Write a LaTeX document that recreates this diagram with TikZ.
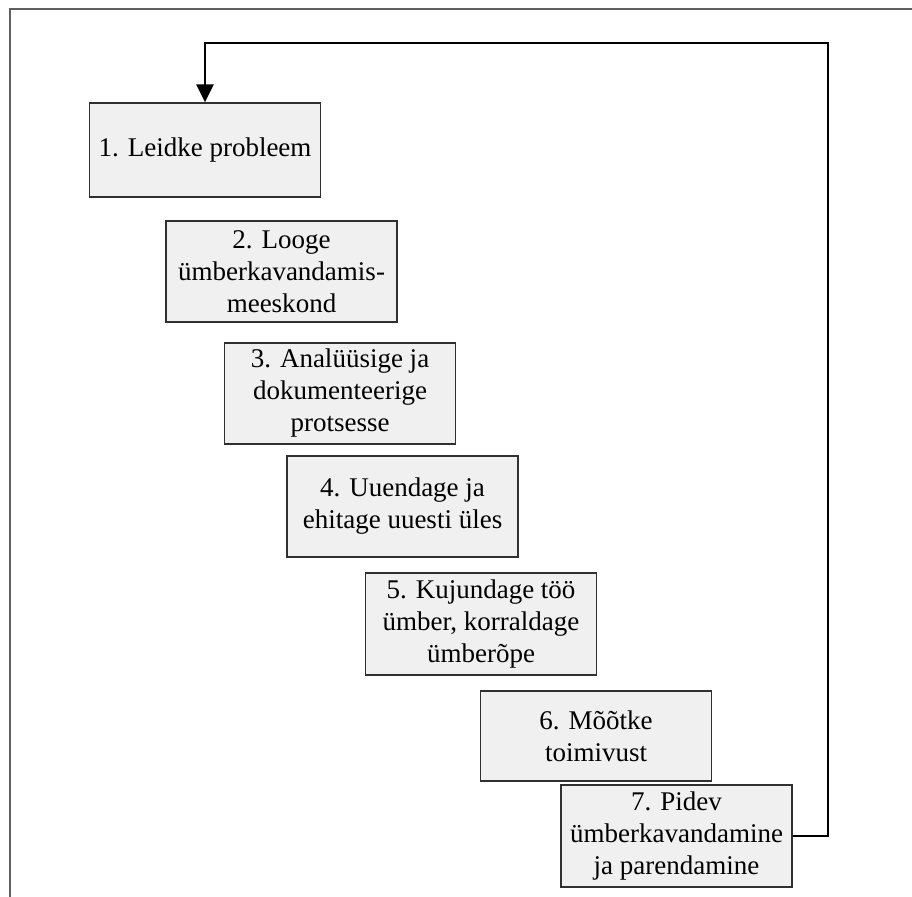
\documentclass[tikz,border=0pt]{standalone}
\usepackage{fontspec}
\setmainfont{Liberation Serif}
\usetikzlibrary{arrows.meta}
\definecolor{boxfill}{HTML}{F0F0F0}
\definecolor{boxline}{HTML}{303030}
\definecolor{frameline}{HTML}{606060}
\begin{document}
\begin{tikzpicture}[x=1pt,y=-1pt,
  stepbox/.style={draw=boxline, line width=1.3pt, fill=boxfill, align=center,
    minimum width=231pt, inner sep=0pt, font=\fontsize{27}{32}\selectfont},
  loopline/.style={draw=black, line width=2.4pt,
    -{Triangle[width=17pt,length=18pt]}},
  frame/.style={draw=frameline, line width=1.6pt}]
\useasboundingbox (0,0) rectangle (912,896);
% outer frame (left and top edges)
\draw[frame] (10,897) -- (10,9) -- (913,9);
% process steps
\node[stepbox, minimum height=94pt]  (s1) at (205,150)   {1. Leidke probleem};
\node[stepbox, minimum height=101pt] (s2) at (281.5,271.5) {2. Looge\\ümberkavandamis-\\meeskond};
\node[stepbox, minimum height=101pt] (s3) at (340,393.5) {3. Analüüsige ja\\dokumenteerige\\protsesse};
\node[stepbox, minimum height=101pt] (s4) at (402.5,506.5) {4. Uuendage ja\\ehitage uuesti üles};
\node[stepbox, minimum height=102pt] (s5) at (481,624)   {5. Kujundage töö\\ümber, korraldage\\ümberõpe};
\node[stepbox, minimum height=90pt]  (s6) at (596,736)   {6. Mõõtke\\toimivust};
\node[stepbox, minimum height=102pt] (s7) at (676.5,836) {7. Pidev\\ümberkavandamine\\ja parendamine};
% feedback loop from the last step back to the first
\coordinate (c1) at (828,836);
\coordinate (c2) at (828,43);
\coordinate (c3) at (205,43);
\draw[loopline] (s7.east) -- (c1) -- (c2) -- (c3) -- (s1.north);
\end{tikzpicture}
\end{document}
